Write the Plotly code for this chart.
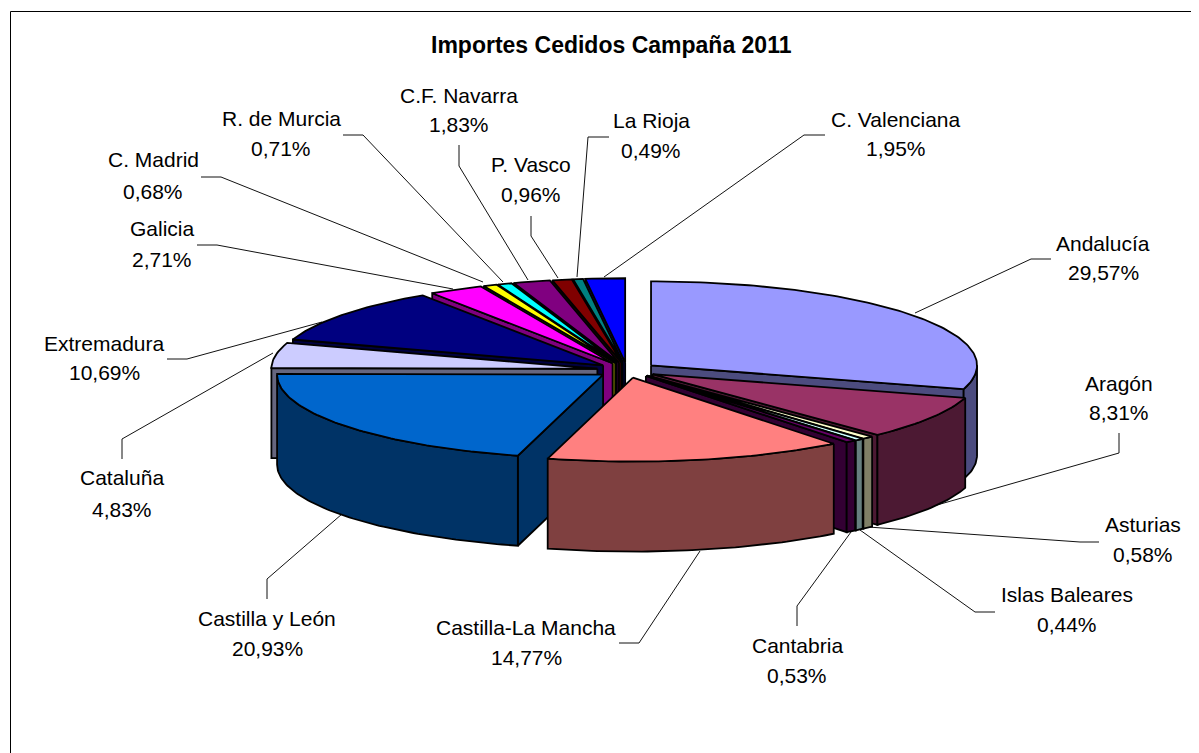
import numpy as np
import plotly.graph_objects as go

# ---- data ----
categories = ["Andalucía", "Aragón", "Asturias", "Islas Baleares", "Cantabria",
              "Castilla-La Mancha", "Castilla y León", "Cataluña", "Extremadura",
              "Galicia", "C. Madrid", "R. de Murcia", "C.F. Navarra", "P. Vasco",
              "La Rioja", "C. Valenciana"]
values = [29.57, 8.31, 0.58, 0.44, 0.53, 14.77, 20.93, 4.83, 10.69,
          2.71, 0.68, 0.71, 1.83, 0.96, 0.49, 1.95]
top_colors = ["#9999FF", "#993366", "#FFFFCC", "#CCFFFF", "#660066", "#FF8080",
              "#0066CC", "#CCCCFF", "#000080", "#FF00FF", "#FFFF00", "#00FFFF",
              "#800080", "#800000", "#008080", "#0000FF"]
title_text = "Importes Cedidos Campaña 2011"

# label centres (x, first line y, second line y)
label_pos = [(1103, 243, 272), (1119, 383, 412), (1143, 524, 554), (1067, 594, 624),
             (797, 645, 675), (526, 627, 657), (267, 618, 648), (122, 477, 509),
             (104, 343, 372), (162, 228, 259), (153, 159, 191), (281, 118, 148),
             (459, 95, 124), (531, 164, 194), (651, 120, 150), (896, 119, 148)]
# leader lines
leaders = [[(915, 313), (1031, 259), (1051, 259)],
           [(930, 507), (1119, 453), (1119, 433)],
           [(868, 527), (1080, 542), (1099, 542)],
           [(860, 530), (975, 612), (995, 612)],
           [(851, 532), (797, 606), (797, 626)],
           [(700, 551), (639, 643), (619, 643)],
           [(342, 514), (267, 579), (267, 599)],
           [(273, 353), (122, 439), (122, 459)],
           [(322, 322), (187, 359), (167, 359)],
           [(453, 289), (217, 245), (197, 245)],
           [(483, 282), (221, 177), (201, 177)],
           [(503, 282), (363, 135), (343, 135)],
           [(528, 280), (459, 166), (459, 145)],
           [(558, 278), (531, 236), (531, 216)],
           [(577, 277), (588, 137), (609, 137)],
           [(604, 277), (804, 135), (825, 135)]]

# ---- pie geometry ----
CX, CY, RX, RY, H, EXPLODE = 627, 370, 326, 84, 90, 30
K = RY / RX
OUTLINE = 1.8
PAGE_MARGIN = 8  # the browser's default body margin


def side_color(c):
    r, g, b = int(c[1:3], 16), int(c[3:5], 16), int(c[5:7], 16)
    return f"rgb({r // 2},{g // 2},{b // 2})"


def poly(xs, ys, fill):
    return go.Scatter(x=list(xs) + [xs[0]], y=list(ys) + [ys[0]], mode="lines", fill="toself",
                      fillcolor=fill, line=dict(color="black", width=OUTLINE),
                      hoverinfo="skip", showlegend=False)


fig = go.Figure()

# leader lines
lx, ly = [], []
for seg in leaders:
    lx += [p[0] for p in seg] + [None]
    ly += [p[1] for p in seg] + [None]
fig.add_trace(go.Scatter(x=lx, y=ly, mode="lines", line=dict(color="#111111", width=1),
                         hoverinfo="skip", showlegend=False))

total = sum(values)
edges = np.cumsum([0] + values) / total * 2 * np.pi
slices = []
for i, c in enumerate(top_colors):
    a, b = edges[i], edges[i + 1]
    mid = (a + b) / 2
    ox = CX + EXPLODE * np.sin(mid)
    oy = CY - EXPLODE * K * np.cos(mid)
    slices.append((-np.cos(mid), i, a, b, ox, oy, c))

for _, i, a, b, ox, oy, c in sorted(slices, key=lambda s: s[0]):
    side = side_color(c)
    # radial walls facing the viewer
    if np.sin(a) < 0:
        rx, ry = ox + RX * np.sin(a), oy - RY * np.cos(a)
        fig.add_trace(poly([ox, rx, rx, ox], [oy, ry, ry + H, oy + H], side))
    if np.sin(b) > 0:
        rx, ry = ox + RX * np.sin(b), oy - RY * np.cos(b)
        fig.add_trace(poly([ox, rx, rx, ox], [oy, ry, ry + H, oy + H], side))
    # outer wall (front half only)
    lo, hi = max(a, np.pi / 2), min(b, 3 * np.pi / 2)
    if hi > lo:
        t = np.linspace(lo, hi, max(3, int((hi - lo) * 60)))
        ax_ = ox + RX * np.sin(t)
        ay_ = oy - RY * np.cos(t)
        fig.add_trace(poly(list(ax_) + list(ax_[::-1]), list(ay_) + list(ay_[::-1] + H), side))
    # top
    t = np.linspace(a, b, max(3, int((b - a) * 60)))
    fig.add_trace(poly([ox] + list(ox + RX * np.sin(t)), [oy] + list(oy - RY * np.cos(t)), c))

FONT = "Liberation Sans, Arial, sans-serif"
annotations = [dict(x=611, y=45, text=f"<b>{title_text}</b>", showarrow=False, xref="x", yref="y",
                    font=dict(family=FONT, size=23, color="black"))]
for name, v, (x, y1, y2) in zip(categories, values, label_pos):
    annotations.append(dict(x=x, y=y1, text=name, showarrow=False, xref="x", yref="y",
                            font=dict(family=FONT, size=21, color="black")))
    annotations.append(dict(x=x, y=y2, text=f"{v:.2f}%".replace(".", ","), showarrow=False,
                            xref="x", yref="y", font=dict(family=FONT, size=21, color="black")))

fig.update_layout(
    width=1199 - PAGE_MARGIN, height=753 - PAGE_MARGIN, autosize=False,
    margin=dict(l=0, r=0, t=0, b=0),
    paper_bgcolor="white", plot_bgcolor="white",
    xaxis=dict(range=[PAGE_MARGIN, 1199], visible=False, fixedrange=True),
    yaxis=dict(range=[753, PAGE_MARGIN], visible=False, fixedrange=True),
    showlegend=False,
    annotations=annotations,
    shapes=[dict(type="line", x0=10.5, x1=1199, y0=11.5, y1=11.5, line=dict(color="black", width=1)),
            dict(type="line", x0=10.5, x1=10.5, y0=11.5, y1=753, line=dict(color="black", width=1))],
)
fig.write_html("out.html", config=dict(displayModeBar=False))
